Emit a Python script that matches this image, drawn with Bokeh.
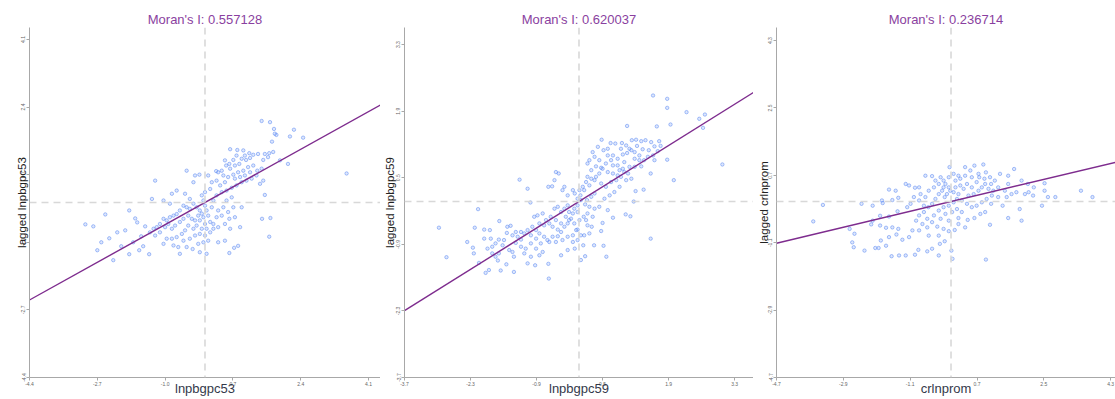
from bokeh.plotting import figure
from bokeh.layouts import row
from bokeh.models import FixedTicker, PrintfTickFormatter, Span
from bokeh.embed import file_html
from bokeh.resources import INLINE

# ---------------- data ----------------
names = ["lnpbgpc53", "lnpbgpc59", "crlnprom"]
morans_i = [0.557128, 0.620037, 0.236714]
ticks_53 = [-4.4, -2.7, -1.0, 0.7, 2.4, 4.1]
ticks_59 = [-3.7, -2.3, -0.9, 0.5, 1.9, 3.3]
ticks_cr = [-4.7, -2.9, -1.1, 0.7, 2.5, 4.3]

pts_53 = [
    (-2.8, -0.6), (-2.6, -1.0), (-2.4, -0.9), (-2.2, -0.75), (-2.0, -0.7), (-2.1, -1.1), (-1.9, -1.3),
    (-1.8, -1.0), (-1.7, -0.5), (-1.6, -0.85), (-1.5, -0.6), (-1.55, -1.1), (-2.3, -1.45), (-1.9, -0.2),
    (-1.4, -1.3), (-2.5, -0.3), (-3.0, -0.55), (-2.7, -1.2), (-1.75, -0.4), (-1.65, -1.2),
    (1.42, 2.05), (1.63, 2.02), (1.73, 1.85), (1.79, 1.70), (1.75, 1.73), (2.23, 1.83), (2.13, 1.66),
    (2.46, 1.63), (1.68, 1.53), (2.08, 0.97), (1.88, 1.06), (1.50, 0.19), (1.64, -0.39), (1.43, -0.41),
    (1.61, -0.86), (0.83, -1.09), (0.73, -1.14), (0.61, -1.27), (3.55, 0.73),
    (0.63, 1.34), (0.81, 1.32), (0.96, 1.31), (1.11, 1.24), (1.21, 1.20), (1.33, 1.22), (1.50, 1.22),
    (1.61, 1.24), (1.71, 1.27), (1.13, 1.12), (1.03, 1.07), (0.92, 1.10), (0.86, 0.97), (0.75, 0.93),
    (0.63, 0.85), (0.53, 0.93), (0.42, 0.80), (0.33, 0.76), (0.28, 0.79), (0.46, 0.68), (0.58, 0.64),
    (0.71, 0.70), (0.83, 0.76), (0.96, 0.80), (1.08, 0.89), (1.21, 0.93), (1.31, 0.80), (1.42, 0.85),
    (1.29, 0.68), (1.17, 0.60), (1.04, 0.55), (0.92, 0.51), (0.79, 0.43), (0.67, 0.37), (0.54, 0.30),
    (0.42, 0.26), (0.29, 0.18), (0.21, 0.05), (0.17, -0.12), (0.33, -0.20), (0.46, -0.12), (0.58, -0.24),
    (0.42, -0.33), (0.29, -0.37), (0.61, -0.41), (0.50, -0.54), (0.33, -0.62), (0.21, -0.66), (0.13, -0.49),
    (0.08, -0.33), (0.04, -0.20), (0.00, -0.08), (-0.04, 0.05), (-0.08, 0.18), (0.00, 0.26), (0.13, 0.34),
    (0.17, 0.51), (0.08, 0.68), (0.29, 0.55), (0.38, 0.43), (0.50, 0.51), (0.75, 0.60), (0.88, 0.64),
    (1.00, 0.68), (1.13, 0.76), (1.46, 0.55), (1.38, 0.47), (0.71, 1.07), (0.61, 0.97), (0.50, 1.06),
    (0.79, 1.18), (1.00, 1.18), (1.46, 1.07), (1.58, 1.14),
    (-0.21, -0.12), (-0.29, -0.03), (-0.38, -0.16), (-0.46, -0.12), (-0.54, -0.08), (-0.63, -0.20),
    (-0.71, -0.29), (-0.79, -0.33), (-0.88, -0.37), (-0.96, -0.45), (-1.04, -0.41), (-1.13, -0.54),
    (-1.21, -0.62), (-1.29, -0.66), (-1.38, -0.75), (-1.25, -0.83), (-1.13, -0.75), (-1.00, -0.62),
    (-0.92, -0.54), (-0.83, -0.66), (-0.75, -0.58), (-0.63, -0.49), (-0.54, -0.41), (-0.42, -0.33),
    (-0.33, -0.41), (-0.25, -0.45), (-0.17, -0.33), (-0.08, -0.28), (-0.13, -0.45), (-0.21, -0.58),
    (-0.29, -0.66), (-0.42, -0.58), (-0.50, -0.70), (-0.58, -0.79), (-0.71, -0.87), (-0.83, -0.91),
    (-0.96, -0.91), (-1.04, -1.04), (-0.79, -1.08), (-0.67, -1.12), (-0.46, -1.12), (-0.31, -1.17),
    (-0.17, -1.04), (-0.04, -1.00), (0.08, -0.96), (0.00, -0.83), (-0.13, -0.79), (-0.25, -0.83),
    (-0.38, -0.91), (-0.54, -0.96), (0.13, -0.75), (0.21, -0.54), (0.04, -0.66), (-0.08, -0.66),
    (0.00, -0.54), (-0.04, -0.37), (-0.13, -0.20), (-0.38, 0.09), (-0.50, 0.22), (-0.71, 0.30),
    (-0.83, 0.22), (-0.46, 0.80), (-0.29, 0.51), (-1.25, 0.55), (-1.33, 0.09), (-1.04, 0.05),
    (-0.88, -0.03), (-0.25, 0.68), (-0.14, 0.70), (0.04, -1.29), (-0.13, -1.25), (-0.63, -1.29),
    (0.33, -1.00), (0.50, -0.96), (0.63, -0.66), (0.75, -0.37), (0.88, -0.62), (0.71, -0.12),
    (0.92, -0.12), (0.54, 0.05), (0.67, 0.13),
]

pts_59 = [
    (1.57, 2.23), (1.87, 2.16), (1.87, 1.97), (2.28, 1.88), (2.67, 1.83), (2.55, 1.74), (1.94, 1.62),
    (2.63, 1.55), (1.65, 1.58), (1.02, 1.59), (3.04, 0.78), (2.01, 0.45), (1.87, 0.88), (1.52, 0.59),
    (1.37, 0.25), (1.20, 0.22), (1.16, 0.00), (1.52, -0.78), (0.99, -0.27), (1.09, -0.31), (0.72, -0.34),
    (0.50, -0.45), (0.47, -0.62), (0.58, -1.16), (0.52, -0.93), (0.32, -0.92), (0.04, -1.23),
    (0.13, -1.15), (0.09, -0.92),
    (-0.64, -1.62), (-0.65, -1.31), (-0.93, -1.34), (-1.09, -1.30), (-1.38, -1.48), (-1.66, -1.45),
    (-1.91, -1.44), (-1.98, -1.50), (-1.54, -1.32), (-1.72, -1.24), (-2.12, -1.29), (-2.23, -1.09),
    (-2.25, -0.97), (-2.37, -0.85), (-2.81, -1.17), (-2.97, -0.55), (-2.14, -0.16), (-2.21, -0.55),
    (-2.01, -0.59), (-1.89, -0.60), (-1.69, -0.41), (-1.26, 0.46), (-1.09, 0.27), (-1.03, -0.02),
    (-0.49, 0.62), (-0.43, 0.59), (-0.65, 0.31), (-0.57, 0.32), (-0.52, 0.45),
    (0.48, 1.30), (0.67, 1.23), (0.77, 1.22), (0.91, 1.23), (1.12, 1.29), (1.21, 1.30), (1.32, 1.27),
    (1.41, 1.29), (1.53, 1.25), (1.70, 1.27), (1.73, 1.17), (1.60, 1.16), (1.48, 1.08), (1.35, 1.10),
    (1.23, 1.17), (1.11, 1.08), (1.02, 1.02), (0.93, 0.99), (0.82, 0.90), (0.68, 0.87), (0.57, 0.80),
    (0.47, 0.71), (0.36, 0.74), (0.26, 0.66), (0.18, 0.52), (0.29, 1.04), (0.40, 1.15), (0.52, 1.08),
    (0.61, 0.97), (0.72, 0.76), (0.86, 0.66), (0.89, 0.52), (0.79, 0.45), (0.68, 0.41), (0.57, 0.31),
    (0.47, 0.38), (0.33, 0.45), (0.22, 0.34), (0.11, 0.24), (0.03, 0.13), (-0.03, 0.06), (-0.09, 0.17),
    (-0.13, 0.24), (-0.24, 0.13), (-0.35, 0.24), (-0.31, 0.31), (0.96, 0.83), (1.07, 0.73), (1.18, 0.90),
    (1.28, 0.97), (1.38, 0.87), (1.46, 0.94), (1.57, 0.97), (1.60, 0.87), (1.67, 1.06), (1.32, 0.74),
    (1.11, 0.48), (1.00, 0.45), (0.86, 0.31), (0.75, 0.20), (0.65, 0.13), (0.54, 0.06), (0.33, 0.17),
    (0.26, 0.10), (0.17, 0.03), (0.13, -0.06), (0.22, -0.11), (0.33, -0.15), (0.43, -0.11), (0.61, -0.18),
    (0.18, -0.25), (0.10, -0.32), (0.29, -0.32), (0.01, -0.39), (0.18, -0.50), (0.04, -0.71),
    (-0.03, -0.59),
    (-1.52, -0.53), (-1.45, -0.51), (-1.53, -0.66), (-1.41, -0.71), (-1.30, -0.74), (-1.23, -0.80),
    (-1.34, -0.87), (-1.16, -0.67), (-1.09, -0.60), (-0.99, -0.53), (-0.95, -0.32), (-0.88, -0.29),
    (-0.77, -0.25), (-0.70, -0.39), (-0.63, -0.46), (-0.56, -0.53), (-0.45, -0.59), (-0.38, -0.64),
    (-0.31, -0.53), (-0.24, -0.46), (-0.17, -0.36), (-0.13, -0.25), (-0.21, -0.22), (-0.31, -0.15),
    (-0.38, -0.22), (-0.45, -0.11), (-0.52, -0.15), (-0.28, -0.32), (-0.21, -0.39), (-0.10, -0.46),
    (-0.06, -0.60), (-0.13, -0.71), (-0.24, -0.74), (-0.35, -0.81), (-0.49, -0.85), (-0.63, -0.85),
    (-0.74, -0.74), (-0.84, -0.67), (-0.91, -0.78), (-1.02, -0.88), (-1.13, -0.99), (-1.23, -0.95),
    (-0.91, -0.99), (-0.77, -1.06), (-0.81, -0.88), (-0.67, -0.81), (-0.56, -0.74), (-0.45, -0.73),
    (-0.38, -0.46), (-0.49, -0.39), (-0.60, -0.32), (-0.74, -0.50), (-0.84, -0.46), (-0.91, -0.60),
    (-1.02, -0.71), (-1.23, -0.64), (-1.34, -0.64), (-1.59, -0.81), (-1.70, -0.80), (-1.77, -0.88),
    (-1.84, -0.95), (-1.62, -0.92), (-1.48, -1.02), (-1.84, -1.09), (-1.77, -1.16), (-1.70, -1.09),
    (-1.94, -0.99), (-2.01, -0.78), (-1.87, -0.78), (-1.41, -1.06), (-1.16, -1.09), (-1.38, -1.16),
    (-1.02, -1.16), (-0.84, -1.13), (-0.38, -1.13), (-0.24, -1.02), (-0.09, -0.99), (-0.13, -0.85),
    (-0.03, -0.81), (0.11, -0.71), (0.22, -0.67), (0.27, -0.53), (0.15, -0.39), (-0.03, -0.22),
    (-0.10, -0.15), (-0.03, -0.08), (0.04, 0.03), (-0.24, -0.08),
    (0.18, 0.80), (0.22, 0.87), (0.33, 0.94), (0.43, 0.87), (0.50, 0.69), (0.61, 0.62), (0.72, 0.59),
    (0.82, 0.55), (0.93, 0.69), (0.82, 0.76), (0.72, 0.97), (0.61, 1.11), (0.89, 1.11), (1.00, 1.18),
    (1.07, 1.11), (1.18, 1.04), (1.28, 0.87), (1.18, 0.73), (1.04, 0.59), (0.96, 0.62), (0.43, 0.59),
    (0.36, 0.52), (0.26, 0.48), (0.15, 0.41), (0.08, 0.31), (0.01, 0.24),
]

pts_cr = [
    (-3.71, -0.53), (-3.45, -0.09), (-2.73, -0.73), (-2.60, -0.86), (-2.66, -1.09), (-2.62, -1.22),
    (-2.33, -1.31), (-2.04, -1.24), (-1.95, -1.24), (-1.75, -1.18), (-1.60, -1.46), (-1.40, -1.44),
    (-1.22, -1.44), (-0.97, -1.42), (-0.88, -1.29), (-0.64, -1.33), (-0.33, -1.44), (0.01, -1.31),
    (0.94, -1.55), (0.04, -1.53), (-0.51, -1.26), (-0.30, -1.13), (-0.17, -1.06), (-1.89, -1.04),
    (-1.67, -0.95), (-1.47, -0.88), (-1.31, -1.02), (-1.13, -0.95), (-1.04, -0.77), (-1.42, -0.73),
    (-1.58, -0.69), (-1.75, -0.70), (-1.91, -0.64), (-2.11, -0.51), (-2.15, -0.61), (-1.91, -0.38),
    (-1.67, -0.40), (-1.44, -0.26), (-1.18, -0.15), (-1.09, -0.06), (-2.41, -0.06), (-2.11, -0.11),
    (-1.86, 0.03), (-1.84, -0.04), (-1.58, 0.04), (-1.42, 0.10), (-1.67, 0.32), (-1.49, 0.29),
    (-1.22, 0.47), (-1.13, 0.43), (-0.97, 0.37), (-0.86, 0.38), (-0.82, 0.20), (-0.69, 0.69),
    (-0.51, 0.68), (-0.42, 0.56), (-0.28, 0.65), (-0.15, 0.47), (-0.04, 0.92), (0.07, 0.74),
    (0.20, 0.69), (0.38, 0.92), (0.52, 0.83), (0.63, 0.96), (0.74, 0.74), (0.87, 0.99), (0.94, 0.78),
    (1.05, 0.65), (1.18, 0.56), (1.32, 0.74), (1.54, 0.69), (1.70, 0.87), (1.90, 0.56), (2.07, 0.47),
    (2.23, 0.38), (2.52, 0.49), (2.52, 0.29), (2.61, 0.12), (2.81, 0.12), (2.45, -0.11), (1.85, -0.20),
    (1.90, -0.51), (1.54, -0.44), (1.39, -0.11), (1.08, -0.06), (1.05, -0.62), (0.92, -0.28),
    (0.79, -0.33), (0.63, -0.44), (0.45, -0.49), (0.20, -0.44), (0.10, -0.76), (-0.06, -0.79),
    (-0.20, -0.73), (-0.37, -0.67), (-0.51, -0.55), (-0.64, -0.69), (-0.77, -0.60), (-0.94, -0.51),
    (-0.86, -0.37), (-0.73, -0.28), (-0.61, -0.15), (-0.51, -0.06), (-0.42, 0.07), (-0.33, 0.20),
    (-0.24, 0.29), (-0.17, 0.12), (-0.11, 0.20), (-0.02, 0.29), (0.12, 0.38), (0.25, 0.43), (0.34, 0.34),
    (0.43, 0.47), (0.56, 0.38), (0.69, 0.52), (0.83, 0.38), (0.92, 0.47), (1.01, 0.34), (1.14, 0.29),
    (1.27, 0.38), (1.45, 0.29), (1.63, 0.20), (1.76, 0.25), (1.99, 0.20), (2.09, 0.25), (1.50, 0.12),
    (1.27, 0.12), (1.10, 0.16), (0.96, 0.07), (0.83, -0.02), (0.69, -0.11), (0.56, -0.15), (0.43, -0.06),
    (0.29, 0.03), (0.16, 0.07), (0.07, -0.02), (-0.06, -0.11), (-0.20, -0.15), (-0.33, -0.24),
    (-0.15, -0.33), (0.03, -0.28), (0.16, -0.20), (0.29, -0.28), (-0.06, -0.51), (-0.28, -0.46),
    (-0.46, -0.37), (-0.64, -0.46), (-0.73, -0.11), (-0.86, 0.03), (-1.00, 0.12), (-0.69, 0.12),
    (-0.60, 0.29), (-0.46, 0.38), (-0.33, 0.47), (-0.20, 0.56), (-0.06, 0.65), (0.12, 0.56), (0.25, 0.61),
    (0.38, 0.69), (0.56, 0.65), (0.76, 0.65), (0.90, 0.61), (1.08, 0.47), (0.74, 0.29), (0.61, 0.20),
    (0.47, 0.16), (0.20, 0.20), (0.07, 0.25), (-0.06, 0.38), (-0.20, 0.38), (0.20, -0.60), (0.38, -0.69),
    (-0.33, -0.91), (-0.60, -0.91), (-0.86, -0.77), (3.50, 0.29), (3.81, 0.12), (1.54, 0.47), (2.21, 0.16),
]

# ---------------- styling ----------------
POINT_LINE = "#3E72EE"
POINT_FILL = "#8DB0F7"
REG_COLOR = "#7E2C8E"
TITLE_COLOR = "#8A3FA0"
GUIDE = "#D8D8D8"

specs = [
    # (pts, ticks, x_range, y_range, width, border_left, ylabel_standoff)
    (pts_53, ticks_53, (-4.4, 4.4), (-4.4, 4.4), 380, 29, -9),
    (pts_59, ticks_59, (-3.7, 3.7), (-3.7, 3.66), 373, 23, -2),
    (pts_cr, ticks_cr, (-4.7, 4.43), (-4.7, 4.65), 362, 23, -4),
]

figs = []
for i, (pts, ticks, xr, yr, w, bl, ylso) in enumerate(specs):
    name = names[i]
    xs = [p[0] for p in pts]
    ys = [p[1] for p in pts]
    p = figure(width=w, height=399, x_range=xr, y_range=yr,
               output_backend="svg", toolbar_location=None,
               min_border_left=bl, min_border_right=0, min_border_top=27, min_border_bottom=22,
               title=f"Moran's I: {morans_i[i]:.6f}")
    p.title.align = "center"
    p.title.text_color = TITLE_COLOR
    p.title.text_font = "Liberation Sans"
    p.title.text_font_size = "13px"
    p.title.text_font_style = "normal"
    p.title.standoff = 1
    p.outline_line_color = None
    p.xgrid.visible = False
    p.ygrid.visible = False

    p.add_layout(Span(location=0, dimension="height", line_color=GUIDE,
                      line_width=1.6, line_dash="7 5"))
    p.add_layout(Span(location=0, dimension="width", line_color=GUIDE,
                      line_width=1.6, line_dash="7 5"))

    p.scatter(xs, ys, size=3.4, marker="circle", fill_color=POINT_FILL, fill_alpha=0.3,
              line_color=POINT_LINE, line_alpha=0.55, line_width=0.8)

    lx = [xr[0], xr[1]]
    ly = [morans_i[i] * v for v in lx]
    p.line(lx, ly, line_color=REG_COLOR, line_width=1.4)

    for ax in (p.xaxis[0], p.yaxis[0]):
        ax.ticker = FixedTicker(ticks=ticks)
        ax.formatter = PrintfTickFormatter(format="%.1f")
        ax.minor_tick_line_color = None
        ax.axis_line_color = "#A8A8A8"
        ax.major_tick_line_color = "#A8A8A8"
        ax.major_tick_out = 3
        ax.major_tick_in = 0
        ax.major_label_text_font_size = "5px"
        ax.major_label_text_color = "#666666"
        ax.major_label_standoff = 1
        ax.axis_label_text_font = "Liberation Sans"
        ax.axis_label_text_font_style = "normal"
    p.yaxis.major_label_orientation = "vertical"
    p.xaxis.axis_label = name
    p.xaxis.axis_label_text_font_size = "13px"
    p.xaxis.axis_label_text_color = "#34394A"
    p.xaxis.axis_label_standoff = -8
    p.yaxis.axis_label = "lagged " + name
    p.yaxis.axis_label_text_font_size = "11.5px"
    p.yaxis.axis_label_text_color = "#222222"
    p.yaxis.axis_label_standoff = ylso
    figs.append(p)

layout = row(*figs, spacing=0)
open("out.html", "w").write(file_html(layout, INLINE))
